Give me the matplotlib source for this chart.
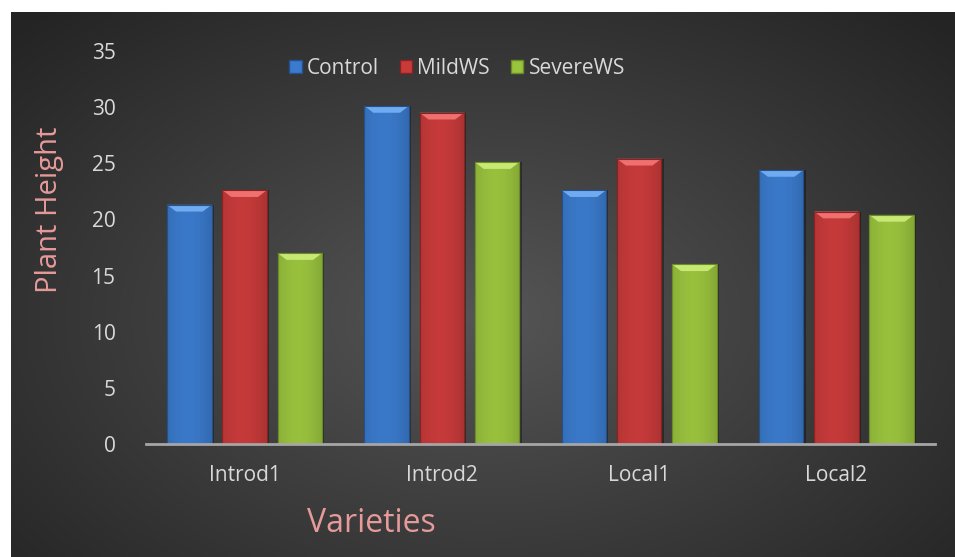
import matplotlib.pyplot as plt
import numpy as np
from matplotlib.patches import Polygon, Patch

varieties = ['Introd1', 'Introd2', 'Local1', 'Local2']
control = [21.3, 30.1, 22.6, 24.4]
mild_ws = [22.6, 29.5, 25.4, 20.7]
severe_ws = [17.0, 25.1, 16.0, 20.4]
series_names = ['Control', 'MildWS', 'SevereWS']

plt.rcParams['font.family'] = ['Open Sans', 'DejaVu Sans']

colors = ['#3b7bcd', '#c93b3b', '#9bc43e']
light = ['#70aaf0', '#f07070', '#c8e874']
dark = ['#24508c', '#8a2222', '#6a8c26']

fig = plt.figure(figsize=(9.55, 5.57), dpi=100)
fig.patch.set_facecolor('white')

# radial gradient background
bg = fig.add_axes([11 / 955, 0, 944 / 955, 545 / 557])
gx, gy = np.meshgrid(np.linspace(-1, 1, 400), np.linspace(-1, 1, 300))
r = np.sqrt((gx / 1.05) ** 2 + ((gy + 0.12) / 1.15) ** 2)
val = 0.335 - 0.19 * np.clip(r, 0, 1.3) / 1.3
bg.imshow(np.dstack([val, val, val]), aspect='auto', extent=[0, 1, 0, 1], origin='lower')
bg.axis('off')

ax = fig.add_axes([146 / 955, (557 - 444) / 557, 789 / 955, 393 / 557])
ax.patch.set_alpha(0)

x = np.arange(len(varieties))
w = 0.225
step = 0.28
grad = np.linspace(0, 1, 50)[None, :]
for i, vals in enumerate([control, mild_ws, severe_ws]):
    xs = x + (i - 1) * step
    # shadow
    ax.bar(xs + 0.012, vals, w, color='black', alpha=0.35, zorder=1)
    bars = ax.bar(xs, vals, w, color=colors[i], edgecolor=dark[i], linewidth=0.8, zorder=2)
    for b, v in zip(bars, vals):
        x0 = b.get_x()
        shade = 0.9 + 0.1 * np.sin(np.pi * grad) - 0.04 * grad
        img = np.clip(np.array(plt.matplotlib.colors.to_rgb(colors[i]))[None, None, :] * shade[..., None], 0, 1)
        im = ax.imshow(img, extent=[x0, x0 + w, 0, v], aspect='auto', zorder=3)
        im.set_clip_path(b)
        bev = 0.6
        bx = w * 0.2
        top = Polygon([[x0, v], [x0 + w, v], [x0 + w - bx, v - bev], [x0 + bx, v - bev]],
                      closed=True, facecolor=light[i], edgecolor='none', zorder=4)
        ax.add_patch(top)
        ax.add_patch(Polygon([[x0, v], [x0 + w, v], [x0 + w, 0], [x0, 0]], closed=True,
                             facecolor='none', edgecolor=dark[i], linewidth=0.8, zorder=5))

ax.set_xlim(-0.5, len(varieties) - 0.5)
ax.set_ylim(0, 35)
ax.set_yticks(np.arange(0, 36, 5))
ax.set_xticks(x)
ax.set_xticklabels(varieties)
ax.tick_params(axis='both', length=0, colors='#d9d9d9', labelsize=15)
ax.tick_params(axis='x', pad=15)
ax.tick_params(axis='y', pad=22)
for s in ['top', 'right', 'left']:
    ax.spines[s].set_visible(False)
ax.spines['bottom'].set_color('#a6a6a6')
ax.spines['bottom'].set_linewidth(2)
ax.spines['bottom'].set_zorder(6)

fig.text(50 / 955, 1 - 210 / 557, 'Plant Height', rotation=90, color='#e69a9a',
         fontsize=21, ha='center', va='center')
fig.text(371 / 955, 1 - 524 / 557, 'Varieties', color='#e69a9a',
         fontsize=23, ha='center', va='center')

handles = [Patch(facecolor=colors[i], edgecolor=dark[i]) for i in range(3)]
leg = fig.legend(handles, series_names, loc='center', bbox_to_anchor=(457 / 955, 1 - 68 / 557),
                 ncol=3, frameon=False, fontsize=15, labelcolor='#d9d9d9',
                 handlelength=0.6, handleheight=0.6, handletextpad=0.25, columnspacing=1.0)

fig.savefig('out.png', dpi=100)
